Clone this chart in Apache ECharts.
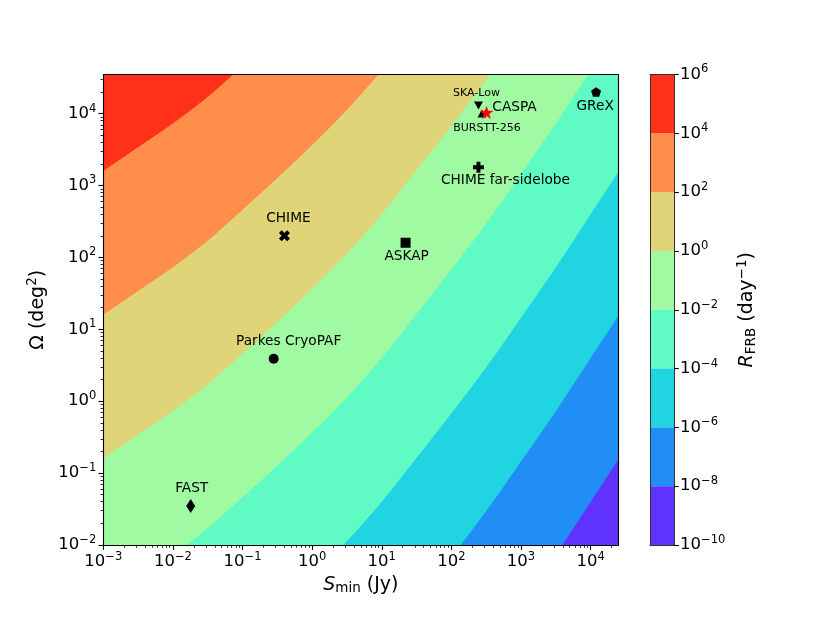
<!DOCTYPE html>
<html>
<head>
<meta charset="utf-8">
<script src="https://cdn.jsdelivr.net/npm/echarts@6/dist/echarts.min.js"></script>
<style>
html, body {margin: 0; padding: 0; background: #fff;}
#chart {width: 830px; height: 623px;}
</style>
</head>
<body>
<div id="chart"></div>
<script>
var FONT = 'DejaVu Sans';

// colour levels of R_FRB (log10 day^-1) and the band colours between them
var levels = [-10, -8, -6, -4, -2, 0, 2, 4, 6];
var bandColors = ['#6032fe', '#208ef4', '#20d4e1', '#60fac5', '#9ffaa2', '#dfd478', '#ff8e4a', '#ff3219'];

var sLog = [-3, -2.5, -2, -1.5, -1, -0.5, 0, 0.5, 1, 1.5, 2, 2.5, 3, 3.5, 4, 4.4];
// log10 Omega of every contour line at those S_min
var contourM8 = [-8.79, -8.46, -8.13, -7.76, -7.33, -6.89, -6.43, -5.94, -5.39, -4.78, -4.16, -3.52, -2.83, -2.13, -1.39, -0.80];
var contourM6 = [-6.79, -6.46, -6.13, -5.76, -5.33, -4.89, -4.43, -3.94, -3.39, -2.78, -2.16, -1.52, -0.83, -0.13, 0.61, 1.20];
var contourM4 = [-4.79, -4.46, -4.13, -3.76, -3.33, -2.89, -2.43, -1.94, -1.39, -0.78, -0.16, 0.48, 1.17, 1.87, 2.61, 3.20];
var contourM2 = [-2.79, -2.46, -2.13, -1.76, -1.33, -0.89, -0.43, 0.06, 0.61, 1.22, 1.84, 2.48, 3.17, 3.87, 4.61, 5.20];
var contour0 = [-0.79, -0.46, -0.13, 0.24, 0.67, 1.11, 1.57, 2.06, 2.61, 3.22, 3.84, 4.48, 5.17, 5.87, 6.61, 7.20];
var contourP2 = [1.21, 1.54, 1.87, 2.24, 2.67, 3.11, 3.57, 4.06, 4.61, 5.22, 5.84, 6.48, 7.17, 7.87, 8.61, 9.20];
var contourP4 = [3.21, 3.54, 3.87, 4.24, 4.67, 5.11, 5.57, 6.06, 6.61, 7.22, 7.84, 8.48, 9.17, 9.87, 10.61, 11.20];

// surveys
var siteNames = ['FAST', 'Parkes CryoPAF', 'CHIME', 'ASKAP', 'CHIME far-sidelobe', 'SKA-Low', 'BURSTT-256', 'CASPA', 'GReX'];
var siteSmin = [0.018, 0.28, 0.40, 22, 245, 245, 275, 320, 12000];
var siteOmega = [0.035, 3.9, 200, 160, 1800, 13000, 10000, 10400, 20000];

// tick labels
var xMajor = [1e-3, 1e-2, 1e-1, 1, 10, 100, 1e3, 1e4];
var yMajor = [1e-2, 1e-1, 1, 10, 100, 1e3, 1e4];
var xMin = 1e-3, xMax = 2.5e4, yMin = 1e-2, yMax = 3.5e4;

function minorTicks(lo, hi) {
    var out = [];
    for (var e = -4; e <= 5; e++) {
        for (var m = 2; m <= 9; m++) {
            var v = m * Math.pow(10, e);
            if (v > lo && v < hi) out.push(v);
        }
    }
    return out;
}

var STAR = 'path://M50,0L61.23,34.55L97.55,34.55L68.17,55.9L79.39,90.45L50,69.1L20.61,90.45L31.83,55.9L2.45,34.55L38.77,34.55Z';
var PENT = 'path://M50,0L97.55,34.55L79.39,90.45L20.61,90.45L2.45,34.55Z';
var XMARK = 'path://M0,2.5L2.5,0L5,2.5L7.5,0L10,2.5L7.5,5L10,7.5L7.5,10L5,7.5L2.5,10L0,7.5L2.5,5Z';
var PLUS = 'path://M3.2,0H6.8V3.2H10V6.8H6.8V10H3.2V6.8H0V3.2H3.2Z';

var siteStyle = {
    'FAST': {symbol: 'diamond', size: [9, 14], offset: [1, -17]},
    'Parkes CryoPAF': {symbol: 'circle', size: 10, offset: [15, -17]},
    'CHIME': {symbol: XMARK, size: 11, offset: [4, -17]},
    'ASKAP': {symbol: 'rect', size: 10, offset: [1, 14]},
    'CHIME far-sidelobe': {symbol: PLUS, size: 11, offset: [27, 13]},
    'SKA-Low': {symbol: 'triangle', size: [9, 8], rotate: 180, offset: [-2, -12], fs: 11},
    'BURSTT-256': {symbol: 'triangle', size: [9, 8], offset: [5, 15], fs: 11},
    'CASPA': {symbol: STAR, size: 14, color: '#ff0000', offset: [28, -5]},
    'GReX': {symbol: PENT, size: 10, offset: [-1, 14]}
};

function expText(e) { return e < 0 ? '\u2212' + (-e) : String(e); }
function powLabel(v) {
    var e = Math.round(Math.log(v) / Math.LN10);
    return '{b|10}{s|' + expText(e) + '}';
}
var tickRich = {
    b: {fontFamily: FONT, fontSize: 16.5, color: '#000'},
    s: {fontFamily: FONT, fontSize: 11.5, color: '#000', padding: [0, 0, 10, 0]}
};
var nameRich = {
    t: {fontFamily: FONT, fontSize: 19, color: '#000'},
    i: {fontFamily: FONT, fontSize: 19, fontStyle: 'italic', color: '#000'},
    sub: {fontFamily: FONT, fontSize: 13.5, color: '#000', padding: [8, 0, 0, 0]},
    sup: {fontFamily: FONT, fontSize: 13.5, color: '#000', padding: [0, 0, 11, 0]}
};
var black = {color: '#000', width: 1.1};

var contours = [contourM8, contourM6, contourM4, contourM2, contour0, contourP2, contourP4];
var series = contours.map(function (c, k) {
    return {
        type: 'line', xAxisIndex: 0, yAxisIndex: 0,
        data: sLog.map(function (s, i) { return [Math.pow(10, s), Math.pow(10, c[i])]; }),
        symbol: 'none', smooth: 0.3,
        lineStyle: {width: 1, color: bandColors[k + 1]},
        areaStyle: {color: bandColors[k + 1], opacity: 1, origin: 'end'},
        silent: true, clip: true, z: 2
    };
});

series.push({
    type: 'scatter', xAxisIndex: 0, yAxisIndex: 0, z: 10, silent: true,
    data: siteNames.map(function (n, i) {
        var st = siteStyle[n];
        return {
            name: n,
            value: [siteSmin[i], siteOmega[i]],
            symbol: st.symbol,
            symbolSize: st.size,
            symbolRotate: st.rotate || 0,
            symbolKeepAspect: true,
            itemStyle: {color: st.color || '#000', opacity: 1},
            label: {
                show: true, position: 'inside', offset: st.offset, formatter: n,
                color: '#000', fontFamily: FONT, fontSize: st.fs || 13.7
            }
        };
    })
});

// colour bar as stacked bands
var bandOrder = [];
for (var b = 0; b < bandColors.length; b++) bandOrder.push(b);
bandOrder.sort(function (a, c) {
    return Math.abs(levels[a] + levels[a + 1]) - Math.abs(levels[c] + levels[c + 1]);
});
bandOrder.forEach(function (b) {
    var lo = levels[b], hi = levels[b + 1];
    series.push({
        type: 'bar', xAxisIndex: 3, yAxisIndex: 3,
        stack: 'cb', barWidth: '100%',
        data: [hi <= 0 ? lo - hi : hi - lo],
        itemStyle: {color: bandColors[b]},
        silent: true, z: 2
    });
});

var option = {
    animation: false,
    backgroundColor: '#fff',
    grid: [
        {left: 103.3, top: 74.5, width: 515, height: 470.5, show: true,
         backgroundColor: bandColors[0], borderWidth: 0},
        {left: 650, top: 74.5, width: 24, height: 470.5}
    ],
    xAxis: [
        {
            type: 'log', gridIndex: 0, min: xMin, max: xMax, position: 'bottom', z: 5,
            axisLine: {show: true, onZero: false, lineStyle: black},
            axisTick: {show: true, length: 4.8, customValues: xMajor, lineStyle: black},
            axisLabel: {customValues: xMajor, formatter: powLabel, rich: tickRich, margin: 6},
            splitLine: {show: false},
            name: '{i|S}{sub|min}{t| (Jy)}', nameLocation: 'middle', nameGap: 27,
            nameTextStyle: {rich: nameRich}
        },
        {
            type: 'log', gridIndex: 0, min: xMin, max: xMax, position: 'bottom', z: 5,
            axisLine: {show: false},
            axisTick: {show: true, length: 2.8, customValues: minorTicks(xMin, xMax), lineStyle: {color: '#000', width: 0.8}},
            axisLabel: {show: false}, splitLine: {show: false}
        },
        {
            type: 'log', gridIndex: 0, min: xMin, max: xMax, position: 'top', z: 5,
            axisLine: {show: true, onZero: false, lineStyle: black},
            axisTick: {show: false}, axisLabel: {show: false}, splitLine: {show: false}
        },
        {
            type: 'category', gridIndex: 1, data: ['cb'], position: 'bottom', z: 5,
            axisLine: {show: true, onZero: false, lineStyle: {color: '#333', width: 1}},
            axisTick: {show: false}, axisLabel: {show: false}, splitLine: {show: false}
        },
        {
            type: 'category', gridIndex: 1, data: ['cb'], position: 'top', z: 5,
            axisLine: {show: true, onZero: false, lineStyle: {color: '#333', width: 1}},
            axisTick: {show: false}, axisLabel: {show: false}, splitLine: {show: false}
        }
    ],
    yAxis: [
        {
            type: 'log', gridIndex: 0, min: yMin, max: yMax, position: 'left', z: 5,
            axisLine: {show: true, onZero: false, lineStyle: black},
            axisTick: {show: true, length: 4.8, customValues: yMajor, lineStyle: black},
            axisLabel: {customValues: yMajor, formatter: powLabel, rich: tickRich, margin: 7},
            splitLine: {show: false},
            name: '{t|\u03a9 (deg}{sup|2}{t|)}', nameLocation: 'middle', nameGap: 50, nameRotate: 90,
            nameTextStyle: {rich: nameRich}
        },
        {
            type: 'log', gridIndex: 0, min: yMin, max: yMax, position: 'left', z: 5,
            axisLine: {show: false},
            axisTick: {show: true, length: 2.8, customValues: minorTicks(yMin, yMax), lineStyle: {color: '#000', width: 0.8}},
            axisLabel: {show: false}, splitLine: {show: false}
        },
        {
            type: 'log', gridIndex: 0, min: yMin, max: yMax, position: 'right', z: 5,
            axisLine: {show: true, onZero: false, lineStyle: black},
            axisTick: {show: false}, axisLabel: {show: false}, splitLine: {show: false}
        },
        {
            type: 'value', gridIndex: 1, min: levels[0], max: levels[levels.length - 1], interval: 2,
            position: 'right', z: 5,
            axisLine: {show: true, onZero: false, lineStyle: {color: '#333', width: 1}},
            axisTick: {show: true, length: 4.8, lineStyle: black},
            axisLabel: {
                margin: 6, rich: tickRich,
                formatter: function (v) { return '{b|10}{s|' + expText(v) + '}'; }
            },
            splitLine: {show: false},
            name: '{i|R}{sub|FRB}{t| (day}{sup|\u22121}{t|)}', nameLocation: 'middle', nameGap: 61, nameRotate: 90,
            nameTextStyle: {rich: nameRich}
        },
        {
            type: 'value', gridIndex: 1, min: levels[0], max: levels[levels.length - 1], position: 'left', z: 5,
            axisLine: {show: true, onZero: false, lineStyle: {color: '#333', width: 1}},
            axisTick: {show: false}, axisLabel: {show: false}, splitLine: {show: false}
        }
    ],
    series: series
};

var myChart = echarts.init(document.getElementById('chart'));
myChart.setOption(option);
</script>
</body>
</html>
